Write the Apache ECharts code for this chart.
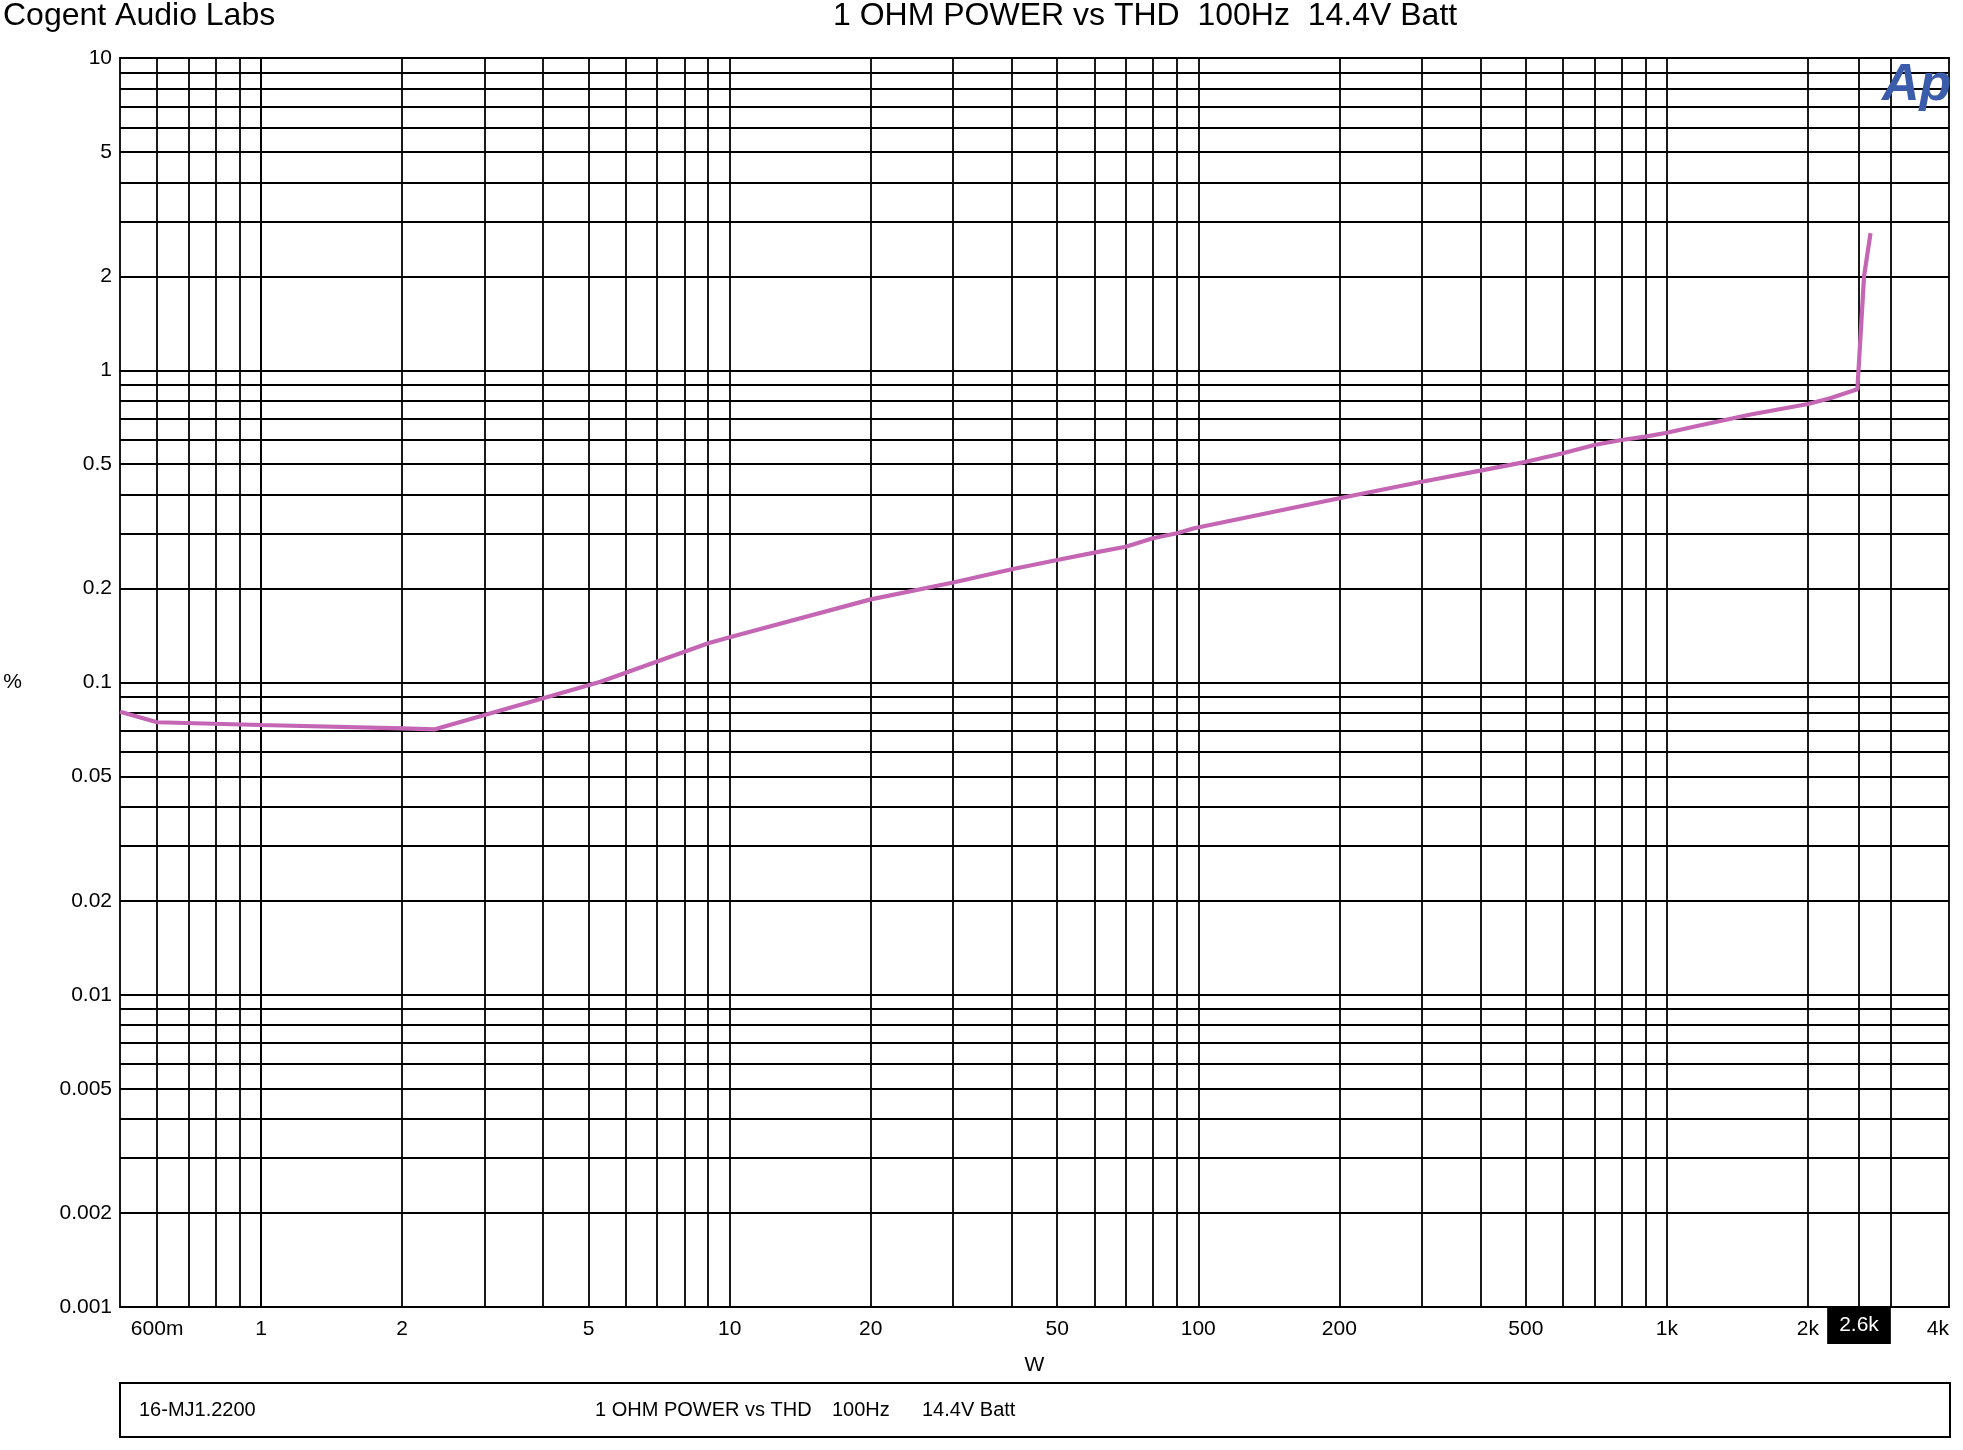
<!DOCTYPE html>
<html>
<head>
<meta charset="utf-8">
<title>1 OHM POWER vs THD</title>
<script src="https://cdn.jsdelivr.net/npm/echarts@6/dist/echarts.min.js"></script>
<style>
    html, body { margin: 0; padding: 0; background: #fff; }
    #chart { width: 1963px; height: 1450px; }
</style>
</head>
<body>
<div id="chart"></div>
<script>
    // power sweep, W  /  THD+N, %
    const powerW = [0.5, 0.6, 1, 2, 2.35, 3, 4, 5.3, 9, 10, 20, 30, 40, 50, 60, 70, 80, 90, 98,
        200, 300, 400, 500, 600, 700, 800, 900, 1000, 1160, 1500, 2000, 2230, 2550, 2635, 2720];
    const thdPct = [0.0806, 0.0746, 0.0731, 0.0713, 0.0708, 0.0787, 0.089, 0.1006, 0.1335, 0.1396,
        0.1846, 0.209, 0.2304, 0.2467, 0.2606, 0.272, 0.2897, 0.3006, 0.312,
        0.389, 0.4396, 0.477, 0.509, 0.542, 0.576, 0.598, 0.613, 0.631, 0.663, 0.72, 0.78, 0.813, 0.869, 2.0, 2.75];

    const xTickVals = [0.6, 1, 2, 5, 10, 20, 50, 100, 200, 500, 1000, 2000, 4000];
    const xTickText = ['600m', '1', '2', '5', '10', '20', '50', '100', '200', '500', '1k', '2k', '4k'];
    const yTickVals = [0.001, 0.002, 0.005, 0.01, 0.02, 0.05, 0.1, 0.2, 0.5, 1, 2, 5, 10];
    const yTickText = ['0.001', '0.002', '0.005', '0.01', '0.02', '0.05', '0.1', '0.2', '0.5', '1', '2', '5', '10'];

    const xMin = 0.5, xMax = 4000;
    const yMin = 0.001, yMax = 10;
    const cursorW = 2600;

    // log grid: 1..9 per decade
    function logGrid(lo, hi) {
        let out = [];
        for (let d = Math.floor(Math.log10(lo)); d <= Math.ceil(Math.log10(hi)); d++) {
            for (let m = 1; m <= 9; m++) {
                let v = m * Math.pow(10, d);
                if (v > lo * 1.0001 && v < hi * 0.9999) out.push(v);
            }
        }
        return out;
    }
    // above 2k only the 3k line, the cursor line comes from the markLine
    let xGrid = logGrid(xMin, xMax).filter(v => v <= 2000 || v === 3000);

    const lg = Math.log10;
    function labelFor(vals, texts) {
        return function (v) {
            for (let i = 0; i < vals.length; i++) {
                if (Math.abs(lg(vals[i]) - v) < 1e-6) return texts[i];
            }
            return '';
        };
    }

    const FONT = 'Liberation Sans';
    const GRID_W = 1.8;
    let chart = echarts.init(document.getElementById('chart'));
    chart.setOption({
        animation: false,
        backgroundColor: '#fff',
        textStyle: { fontFamily: FONT, color: '#000' },
        title: [
            { text: 'Cogent Audio Labs', left: -2, top: -5,
              textStyle: { fontFamily: FONT, fontSize: 32, fontWeight: 'normal', color: '#000' } },
            { text: '1 OHM POWER vs THD  100Hz  14.4V Batt', left: 828, top: -5,
              textStyle: { fontFamily: FONT, fontSize: 32, fontWeight: 'normal', color: '#000' } }
        ],
        grid: {
            left: 120, right: 14, top: 58, bottom: 143,
            show: true, borderColor: '#000', borderWidth: GRID_W, backgroundColor: '#fff'
        },
        xAxis: {
            type: 'value',
            min: lg(xMin), max: lg(xMax),
            name: 'W', nameLocation: 'middle', nameGap: 48,
            nameTextStyle: { fontFamily: FONT, fontSize: 21, color: '#000' },
            axisLine: { show: true, lineStyle: { color: '#000', width: GRID_W } },
            axisTick: { show: false, customValues: xGrid.map(lg) },
            splitLine: { show: true, lineStyle: { color: '#000', width: GRID_W } },
            axisLabel: {
                customValues: xTickVals.map(lg),
                formatter: labelFor(xTickVals, xTickText),
                alignMaxLabel: 'right',
                fontFamily: FONT, fontSize: 21, color: '#000', margin: 12
            }
        },
        yAxis: {
            type: 'value',
            min: lg(yMin), max: lg(yMax),
            name: '%', nameLocation: 'middle', nameRotate: 0, nameGap: 98,
            nameTextStyle: { fontFamily: FONT, fontSize: 21, color: '#000' },
            axisLine: { show: true, lineStyle: { color: '#000', width: GRID_W } },
            axisTick: { show: false, customValues: logGrid(yMin, yMax).map(lg) },
            splitLine: { show: true, lineStyle: { color: '#000', width: GRID_W } },
            axisLabel: {
                customValues: yTickVals.map(lg),
                formatter: labelFor(yTickVals, yTickText),
                fontFamily: FONT, fontSize: 21, color: '#000', margin: 8
            }
        },
        series: [{
            type: 'line',
            data: powerW.map((w, i) => [lg(w), lg(thdPct[i])]),
            showSymbol: false,
            lineStyle: { color: '#c566b5', width: 4.2 },
            itemStyle: { color: '#c566b5' },
            z: 5,
            markLine: {
                silent: true,
                symbol: 'none',
                lineStyle: { color: '#000', width: GRID_W, type: 'solid' },
                label: {
                    show: true, position: 'start', distance: 0,
                    formatter: '2.6k', color: '#fff', backgroundColor: '#000',
                    fontFamily: FONT, fontSize: 21, padding: [8, 12, 8, 12]
                },
                data: [{ xAxis: lg(cursorW) }]
            }
        }],
        graphic: [
            { type: 'rect', shape: { x: 120, y: 1383, width: 1830, height: 54 },
              style: { fill: 'none', stroke: '#000', lineWidth: 2 } },
            { type: 'text', x: 139, y: 1410,
              style: { text: '16-MJ1.2200', font: '20px "Liberation Sans"', fill: '#000', textVerticalAlign: 'middle' } },
            { type: 'text', x: 595, y: 1410,
              style: { text: '1 OHM POWER vs THD', font: '20px "Liberation Sans"', fill: '#000', textVerticalAlign: 'middle' } },
            { type: 'text', x: 832, y: 1410,
              style: { text: '100Hz', font: '20px "Liberation Sans"', fill: '#000', textVerticalAlign: 'middle' } },
            { type: 'text', x: 922, y: 1410,
              style: { text: '14.4V Batt', font: '20px "Liberation Sans"', fill: '#000', textVerticalAlign: 'middle' } },
            { type: 'text', x: 1882, y: 60, z: 10,
              style: { text: 'Ap', font: 'italic bold 52px "Liberation Sans"', fill: '#3b5bab' } }
        ]
    });
</script>
</body>
</html>
